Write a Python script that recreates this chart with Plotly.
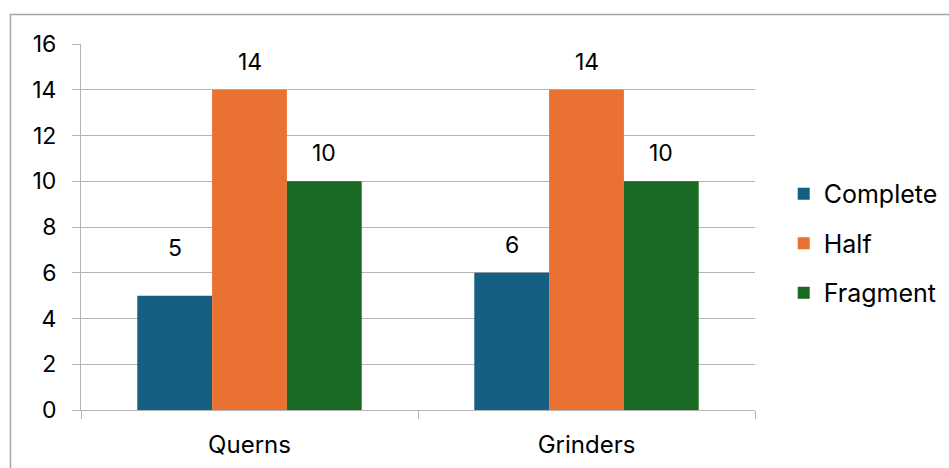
import plotly.graph_objects as go

# Item counts by category and preservation state
categories = ["Querns", "Grinders"]
series_names = ["Complete", "Half", "Fragment"]
complete = [5, 6]
half = [14, 14]
fragment = [10, 10]
y_ticks = [0, 2, 4, 6, 8, 10, 12, 14, 16]

colors = {"Complete": "#156082", "Half": "#E97132", "Fragment": "#196B24"}
FONT = "Inter, 'Noto Sans', Arial, sans-serif"
GRID = "#b4b4b4"
BARGAP = 0.334

# pixel lift of each value label above its bar
label_lift = {
    "Complete": [48, 28],
    "Half": [28, 28],
    "Fragment": [28, 28],
}

fig = go.Figure()
series = [complete, half, fragment]
n = len(series)
bar_w = (1 - BARGAP) / n
for i, (name, vals) in enumerate(zip(series_names, series)):
    fig.add_trace(go.Bar(
        name=name,
        x=categories,
        y=vals,
        marker=dict(color=colors[name], line=dict(width=0)),
        legendgroup=name,
    ))
    # value labels centred over each bar of the group
    offset = (i - (n - 1) / 2) * bar_w
    for j, v in enumerate(vals):
        fig.add_annotation(
            x=j + offset, y=v, xref="x", yref="y",
            text=str(v), showarrow=False,
            yanchor="middle", yshift=label_lift[name][j],
            font=dict(family=FONT, size=23, color="#000000"),
        )

fig.update_layout(
    width=949,
    height=468,
    margin=dict(l=81, r=194, t=44, b=58, autoexpand=False),
    paper_bgcolor="white",
    plot_bgcolor="white",
    barmode="group",
    bargap=BARGAP,
    bargroupgap=0,
    font=dict(family=FONT, size=23, color="#000000"),
    legend=dict(
        x=1.0426, y=0.455, xanchor="left", yanchor="middle",
        font=dict(family=FONT, size=25, color="#000000"),
        tracegroupgap=14,
        itemwidth=30,
        bgcolor="rgba(0,0,0,0)",
    ),
    xaxis=dict(
        showline=True, linecolor=GRID, linewidth=1,
        ticks="outside", tickson="boundaries", ticklen=8, tickcolor=GRID,
        showgrid=False,
        tickfont=dict(family=FONT, size=24),
        ticklabelstandoff=13,
        automargin=False,
    ),
    yaxis=dict(
        range=[0, 16],
        tickvals=y_ticks,
        showline=True, linecolor=GRID, linewidth=1,
        ticks="outside", ticklen=8, tickcolor=GRID,
        showgrid=True, gridcolor=GRID, gridwidth=1,
        zeroline=False,
        tickfont=dict(family=FONT, size=23),
        ticklabelstandoff=11,
        automargin=False,
    ),
    showlegend=True,
)

# chart frame running off the right and bottom edges
fig.add_shape(
    type="rect", xref="paper", yref="paper",
    x0=-0.1046, y0=-1, x1=2, y1=1.0806,
    line=dict(color="#a6a6a6", width=1.5),
    fillcolor="rgba(0,0,0,0)",
    layer="below",
)

fig.write_html("out.html")
